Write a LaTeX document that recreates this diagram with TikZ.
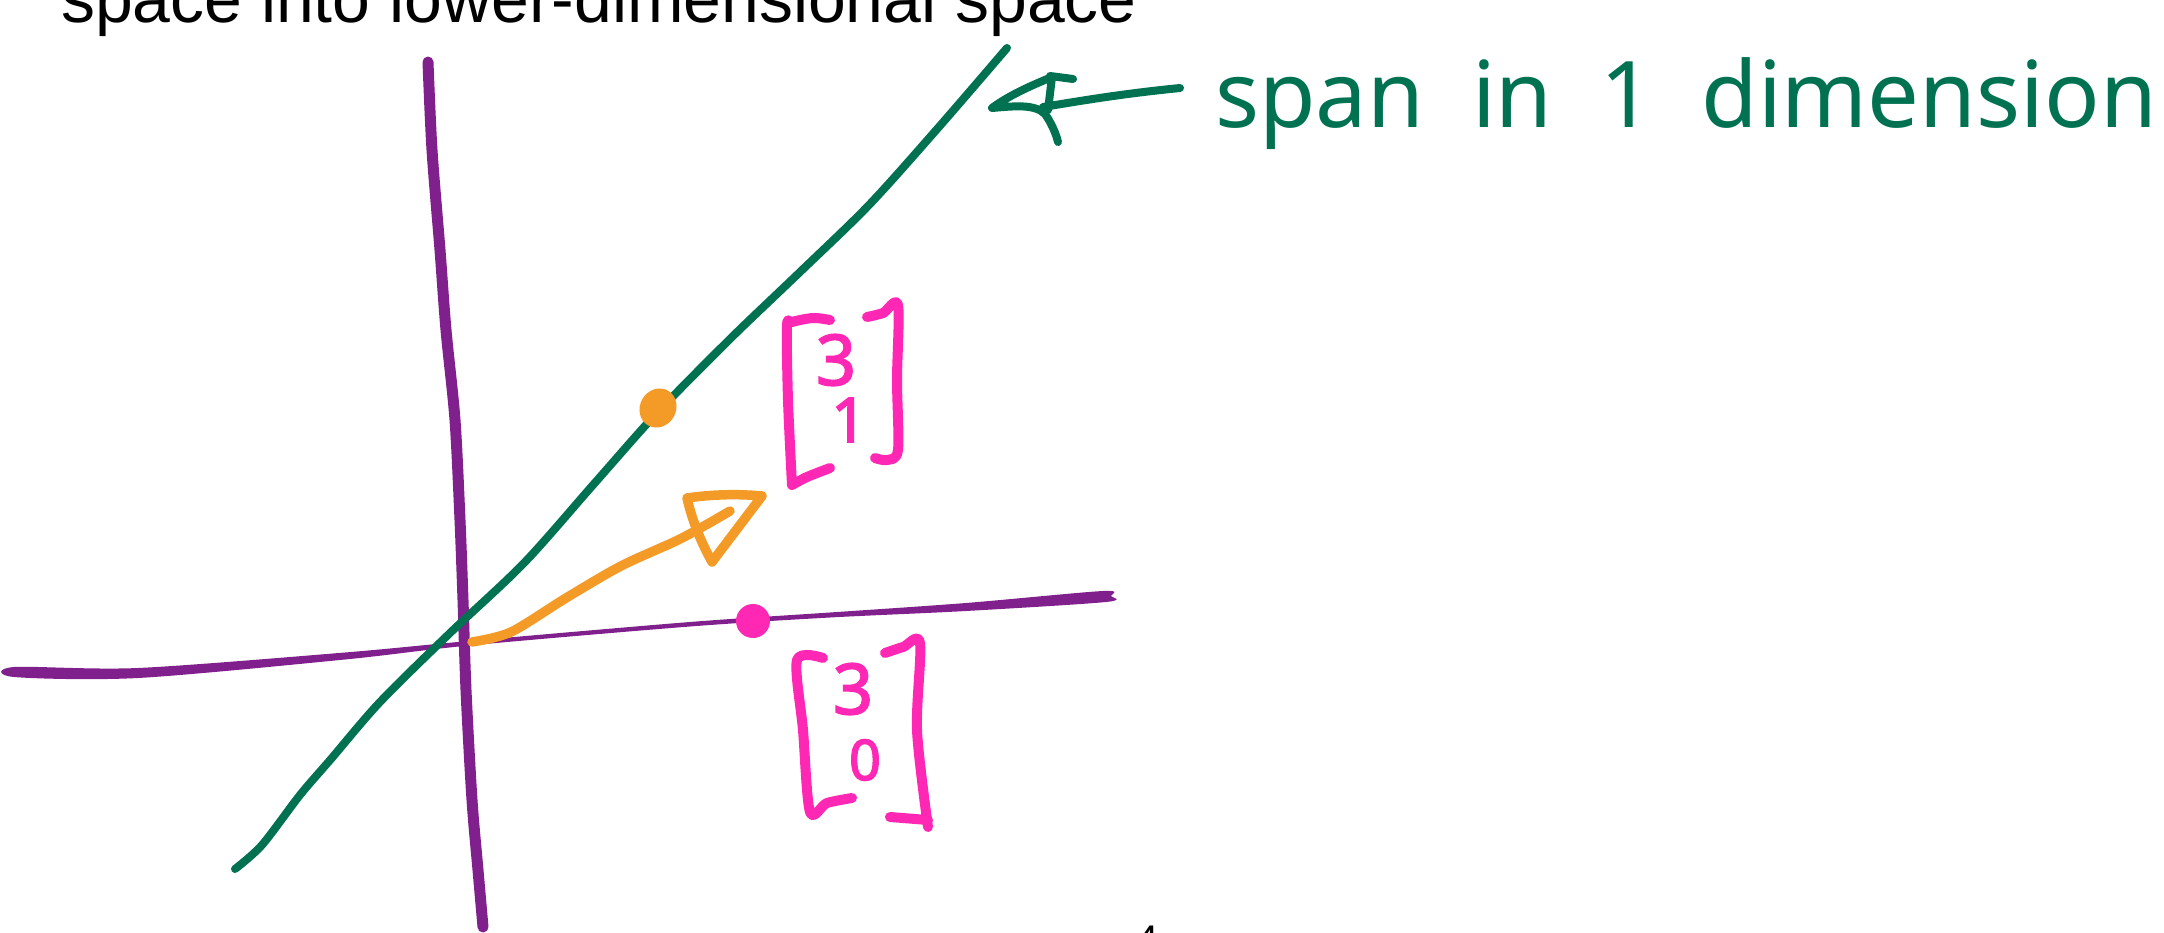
\documentclass[tikz,border=0pt]{standalone}
\usepackage{fontspec}
\setmainfont{Liberation Sans}
\newfontfamily\handfont{Noto Sans}
\newfontfamily\handboldfont[FakeBold=2.5]{Noto Sans}
\definecolor{axpurple}{RGB}{128,32,140}
\definecolor{spangreen}{RGB}{0,114,82}
\definecolor{vecorange}{RGB}{243,155,38}
\definecolor{vecpink}{RGB}{255,40,180}
\begin{document}
\begin{tikzpicture}[x=1pt,y=-1pt,
  axisline/.style={draw=axpurple,line width=11pt,line cap=round,line join=round},
  spanline/.style={draw=spangreen,line width=8pt,line cap=round,line join=round},
  orangestroke/.style={draw=vecorange,line width=9.5pt,line cap=round,line join=round},
  pinkstroke/.style={draw=vecpink,line width=10pt,line cap=round,line join=round},
  pinkdigit/.style={text=vecpink,inner sep=0pt,font=\handboldfont\fontsize{70}{80}\selectfont},
]
\useasboundingbox (0,0) rectangle (2164,933);
\fill[white] (0,0) rectangle (2164,933);

% title text (cut at top)
\node[anchor=base west,inner sep=0pt,font=\fontsize{67.9}{80}\selectfont] (title) at (61,23) {space into lower-dimensional space};

% page number (cut at bottom)
\node[anchor=north west,inner sep=0pt,font=\fontsize{40}{48}\selectfont] (pagenum) at (1136,926) {4};

% vertical axis
\draw[axisline] plot[smooth,tension=0.5] coordinates {(428,62)(432,150)(440,250)(446,330)(455,420)(460,520)(463,600)(466,690)(472,800)(478,870)(483,927)};

% horizontal axis (tapered)
\fill[axpurple] plot[smooth cycle,tension=0.5] coordinates {(14,667)(138,668)(345,652.5)(469,641)(690,622)(830,612.5)(966,603)(1103,591)(1111,596)(1106,602)(966,611)(830,617.5)(690,626.5)(469,645.5)(345,659.5)(138,678)(14,677)};

% green span line
\draw[spanline] plot[smooth,tension=0.5] coordinates {(235,869)(262,845)(300,795)(331,759)(380,702)(450,633)(524,563)(593,485)(656,414)(731,338)(800,272)(869,205)(938,128)(1007,48)};

% label and hand-drawn arrow
\node[anchor=base west,inner sep=0pt,text=spangreen,font=\handfont\fontsize{92}{100}\selectfont] (spanlabel) at (1215,128) {\spaceskip=48pt span in 1 dimension};
\coordinate (shaftstart) at (1180,88);
\coordinate (tip) at (992,108);
\draw[spanline] (shaftstart) .. controls (1120,94) and (1080,101) .. (1043,107);
\draw[spanline] (1052,77) .. controls (1030,86) and (1008,96) .. (tip) .. controls (1015,106) and (1035,104) .. (1045,114) .. controls (1052,124) and (1056,134) .. (1058,142);
\draw[spanline] (1052,77) -- (1048,110);
\draw[spanline] (1050,76) -- (1073,79);

% orange point on span line
\fill[vecorange,rotate around={-30:(658,408)}] (658,408) ellipse (18 and 20);

% orange vector
\draw[orangestroke] plot[smooth,tension=0.5] coordinates {(472,642)(511,632)(566,598)(621,566)(676,541)(704,526)(730,511)};
\draw[orangestroke] (687,498) .. controls (715,494) and (740,494) .. (762,496) -- (712,562) .. controls (700,540) and (692,520) .. (687,498);

% pink point on horizontal axis
\fill[vecpink] (753,621) circle (17);

% upper pink vector [3;1]
\draw[pinkstroke] plot[smooth,tension=0.5] coordinates {(830,320)(813,318)(792,322)(787,326)(788,400)(792,485)};
\draw[pinkstroke] plot[smooth,tension=0.5] coordinates {(792,485)(807,477)(830,468)};
\draw[pinkstroke] plot[smooth,tension=0.5] coordinates {(867,317)(883,313)(898,305)(897,380)(898,450)(887,460)(875,458)};
\node[pinkdigit] (d3a) at (836,360) {3};
\node[pinkdigit,font=\handboldfont\fontsize{62}{70}\selectfont] (d1) at (849,420) {1};

% lower pink vector [3;0]
\draw[pinkstroke] plot[smooth,tension=0.5] coordinates {(823,658)(797,660)(803,730)(810,812)(827,803)(852,798)};
\draw[pinkstroke] plot[smooth,tension=0.5] coordinates {(885,653)(903,647)(920,643)(917,730)(928,827)};
\draw[pinkstroke] (890,817) -- (928,820);
\node[pinkdigit] (d3b) at (853,689) {3};
\node[pinkdigit,font=\handboldfont\fontsize{56}{66}\selectfont] (d0) at (865,760) {0};
\end{tikzpicture}
\end{document}
